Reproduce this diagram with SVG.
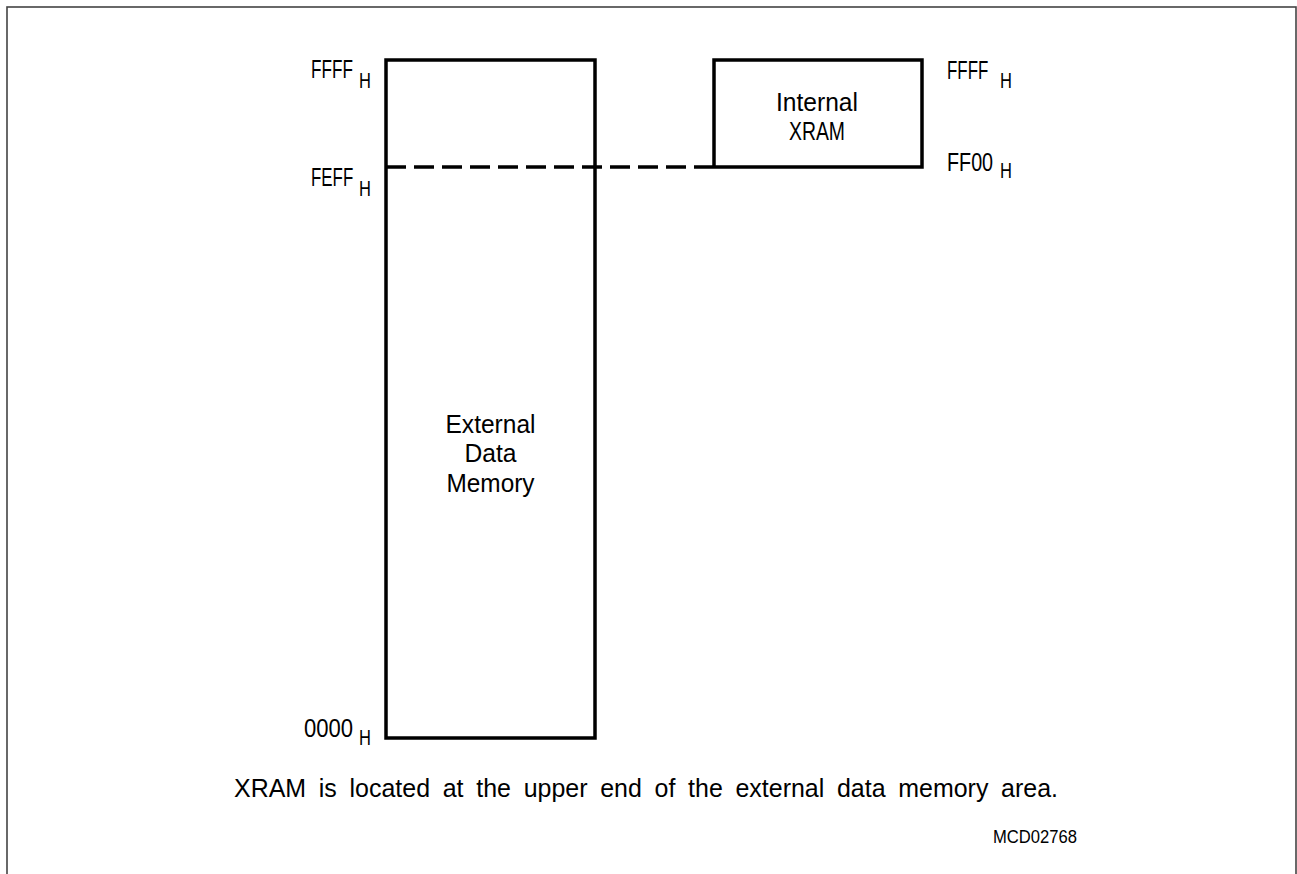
<svg xmlns="http://www.w3.org/2000/svg" width="1297" height="874" viewBox="0 0 1297 874">
<style>
.t{font-family:"Liberation Sans",Arial,sans-serif;fill:#000;}
.lbl{font-size:26px;}
.sub{font-size:22px;}
.box{fill:none;stroke:#000;stroke-width:3.5;stroke-linejoin:miter;}
.dash{fill:none;stroke:#000;stroke-width:3.5;stroke-dasharray:20 8;}
</style>
<rect x="0" y="0" width="1297" height="874" fill="#fff"/>
<rect x="7" y="7" width="1289" height="880" fill="none" stroke="#444" stroke-width="1.6"/>
<g id="external-memory">
<rect class="box" x="386" y="60" width="209" height="678"/>
<text class="t lbl" x="490.5" y="433" text-anchor="middle" textLength="90" lengthAdjust="spacingAndGlyphs">External</text>
<text class="t lbl" x="490.5" y="462" text-anchor="middle" textLength="52" lengthAdjust="spacingAndGlyphs">Data</text>
<text class="t lbl" x="490.5" y="492" text-anchor="middle" textLength="88" lengthAdjust="spacingAndGlyphs">Memory</text>
</g>
<g id="internal-xram">
<path class="box" d="M714 167 V60 H922 V167 H714"/>
<text class="t lbl" x="817" y="111" text-anchor="middle" textLength="82" lengthAdjust="spacingAndGlyphs">Internal</text>
<text class="t lbl" x="817" y="140" text-anchor="middle" textLength="56" lengthAdjust="spacingAndGlyphs">XRAM</text>
</g>
<g id="labels">
<text class="t lbl" transform="translate(311 78) scale(0.66 1)">FFFF</text>
<text class="t sub" transform="translate(359 88) scale(0.75 1)">H</text>
<text class="t lbl" transform="translate(311 186) scale(0.65 1)">FEFF</text>
<text class="t sub" transform="translate(359 196) scale(0.75 1)">H</text>
<text class="t lbl" transform="translate(304 737) scale(0.85 1)">0000</text>
<text class="t sub" transform="translate(359 745) scale(0.75 1)">H</text>
<text class="t lbl" transform="translate(947 79) scale(0.65 1)">FFFF</text>
<text class="t sub" transform="translate(1000 88) scale(0.75 1)">H</text>
<text class="t lbl" transform="translate(947 171) scale(0.76 1)">FF00</text>
<text class="t sub" transform="translate(1000 178) scale(0.75 1)">H</text>
</g>
<g id="connectors">
<line class="dash" x1="386" y1="167" x2="714" y2="167"/>
</g>
<g id="caption">
<text class="t lbl" x="234" y="797" textLength="824" lengthAdjust="spacingAndGlyphs" style="word-spacing:6px">XRAM is located at the upper end of the external data memory area.</text>
<text class="t" x="993" y="843" font-size="18" textLength="84" lengthAdjust="spacingAndGlyphs">MCD02768</text>
</g>
</svg>
